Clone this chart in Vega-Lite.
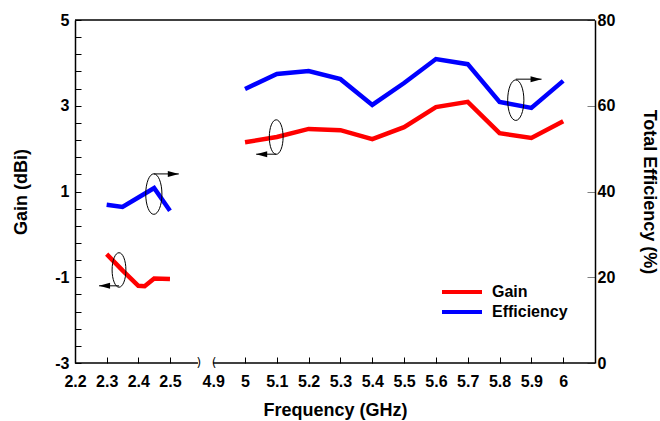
{
  "$schema": "https://vega.github.io/schema/vega-lite/v6.json",
  "width": 520,
  "height": 343,
  "autosize": {"type": "none"},
  "padding": {"left": 75, "top": 20, "right": 65, "bottom": 58},
  "background": "white",
  "config": {
    "view": {"stroke": null},
    "font": "Liberation Sans",
    "axis": {
      "labelFont": "Liberation Sans",
      "labelFontSize": 16,
      "labelFontWeight": "bold",
      "labelColor": "black",
      "labelOverlap": false,
      "labelFlush": false,
      "titleFont": "Liberation Sans",
      "titleFontSize": 18,
      "titleFontWeight": "bold",
      "titleColor": "black",
      "grid": false,
      "ticks": true,
      "domainColor": "black",
      "domainWidth": 1.5,
      "tickColor": "black",
      "tickWidth": 1
    }
  },
  "datasets": {
    "curves": [
      {"series": "Gain", "band": "low", "f": 2.3, "value": -0.46},
      {"series": "Gain", "band": "low", "f": 2.35, "value": -0.84},
      {"series": "Gain", "band": "low", "f": 2.4, "value": -1.2},
      {"series": "Gain", "band": "low", "f": 2.42, "value": -1.21},
      {"series": "Gain", "band": "low", "f": 2.45, "value": -1.03},
      {"series": "Gain", "band": "low", "f": 2.5, "value": -1.04},
      {"series": "Gain", "band": "high", "f": 5.0, "value": 2.15},
      {"series": "Gain", "band": "high", "f": 5.1, "value": 2.27},
      {"series": "Gain", "band": "high", "f": 5.2, "value": 2.46},
      {"series": "Gain", "band": "high", "f": 5.3, "value": 2.43},
      {"series": "Gain", "band": "high", "f": 5.4, "value": 2.22},
      {"series": "Gain", "band": "high", "f": 5.5, "value": 2.5},
      {"series": "Gain", "band": "high", "f": 5.6, "value": 2.97},
      {"series": "Gain", "band": "high", "f": 5.7, "value": 3.09},
      {"series": "Gain", "band": "high", "f": 5.8, "value": 2.36},
      {"series": "Gain", "band": "high", "f": 5.9, "value": 2.25},
      {"series": "Gain", "band": "high", "f": 6.0, "value": 2.64},
      {"series": "Efficiency", "band": "low", "f": 2.3, "value": 36.9},
      {"series": "Efficiency", "band": "low", "f": 2.35, "value": 36.4},
      {"series": "Efficiency", "band": "low", "f": 2.4, "value": 38.6},
      {"series": "Efficiency", "band": "low", "f": 2.45, "value": 40.8},
      {"series": "Efficiency", "band": "low", "f": 2.5, "value": 35.5},
      {"series": "Efficiency", "band": "high", "f": 5.0, "value": 63.9},
      {"series": "Efficiency", "band": "high", "f": 5.1, "value": 67.4},
      {"series": "Efficiency", "band": "high", "f": 5.2, "value": 68.1},
      {"series": "Efficiency", "band": "high", "f": 5.3, "value": 66.2},
      {"series": "Efficiency", "band": "high", "f": 5.4, "value": 60.2},
      {"series": "Efficiency", "band": "high", "f": 5.5, "value": 65.3},
      {"series": "Efficiency", "band": "high", "f": 5.6, "value": 70.9},
      {"series": "Efficiency", "band": "high", "f": 5.7, "value": 69.7},
      {"series": "Efficiency", "band": "high", "f": 5.8, "value": 60.9},
      {"series": "Efficiency", "band": "high", "f": 5.9, "value": 59.5},
      {"series": "Efficiency", "band": "high", "f": 6.0, "value": 65.8}
    ],
    "gainNotes": [
      {"f": 2.339, "value": -0.83, "f2": 2.276, "arrow": -1.2},
      {"f": 5.098, "value": 2.27, "f2": 5.035, "arrow": 1.87}
    ],
    "effNotes": [
      {"f": 2.449, "value": 39.4, "f2": 2.528, "arrow": 44.1},
      {"f": 5.851, "value": 61.3, "f2": 5.932, "arrow": 66.2}
    ],
    "breaks": [
      {"f": 4.855, "glyph": ")"},
      {"f": 4.903, "glyph": "("}
    ]
  },
  "layer": [
    {
      "layer": [
        {
          "data": {"name": "curves"},
          "transform": [{"filter": "datum.series === 'Gain'"}],
          "mark": {"type": "line", "strokeWidth": 4.5},
          "encoding": {
            "x": {
              "field": "f",
              "type": "quantitative",
              "scale": {"domain": [2.2, 2.58, 4.85, 6.1], "range": [0, 120.3, 122.3, 520], "nice": false, "zero": false},
              "axis": {
                "values": [2.2, 2.3, 2.4, 2.5, 4.9, 5, 5.1, 5.2, 5.3, 5.4, 5.5, 5.6, 5.7, 5.8, 5.9, 6],
                "labelExpr": "'' + datum.value",
                "ticks": true,
                "tickSize": -6,
                "tickOpacity": {"condition": {"test": "datum.value == 2.2 || datum.value == 4.9", "value": 0}, "value": 1},
                "domain": false,
                "labelPadding": 16,
                "labelOverlap": false,
                "labelFlush": false,
                "title": "Frequency (GHz)",
                "titlePadding": 12
              }
            },
            "y": {
              "field": "value",
              "type": "quantitative",
              "scale": {"domain": [-3, 5], "nice": false, "zero": false},
              "axis": {
                "orient": "left",
                "title": "Gain (dBi)",
                "values": [-3, -2.6, -2.2, -1.8, -1.4, -1, -0.6, -0.2, 0.2, 0.6, 1, 1.4, 1.8, 2.2, 2.6, 3, 3.4, 3.8, 4.2, 4.6, 5],
                "labelExpr": "datum.value == round(datum.value) ? '' + datum.value : ''",
                "labelOverlap": false,
                "ticks": true,
                "tickSize": -6,
                "labelPadding": 12,
                "titlePadding": 24
              }
            },
            "color": {
              "field": "series",
              "type": "nominal",
              "scale": {"domain": ["Gain", "Efficiency"], "range": ["#FF0000", "#0000FF"]},
              "legend": {
                "orient": "none",
                "legendX": 375,
                "legendY": 260,
                "title": null,
                "padding": 0,
                "symbolType": "M-2,0L2,0",
                "symbolSize": 400,
                "symbolStrokeWidth": 4,
                "labelFont": "Liberation Sans",
                "labelFontSize": 16,
                "labelFontWeight": "bold",
                "labelColor": "black",
                "labelOffset": 18,
                "rowPadding": 0
              }
            },
            "detail": {"field": "band"}
          }
        },
        {
          "data": {"values": [{}]},
          "mark": {"type": "rule", "stroke": "black", "strokeWidth": 1.5},
          "encoding": {
            "x": {"datum": 2.2, "type": "quantitative", "axis": null},
            "x2": {"datum": 6.1},
            "y": {"datum": 5, "type": "quantitative", "axis": null}
          }
        },
        {
          "data": {"values": [{}]},
          "mark": {"type": "rule", "stroke": "black", "strokeWidth": 1.5},
          "encoding": {
            "x": {"datum": 2.2, "type": "quantitative", "axis": null},
            "x2": {"datum": 4.852},
            "y": {"datum": -3, "type": "quantitative", "axis": null}
          }
        },
        {
          "data": {"values": [{}]},
          "mark": {"type": "rule", "stroke": "black", "strokeWidth": 1.5},
          "encoding": {
            "x": {"datum": 4.9, "type": "quantitative", "axis": null},
            "x2": {"datum": 6.1},
            "y": {"datum": -3, "type": "quantitative", "axis": null}
          }
        },
        {
          "data": {"name": "breaks"},
          "mark": {"type": "text", "fontSize": 12, "font": "DejaVu Sans", "baseline": "middle", "align": "center", "color": "black"},
          "encoding": {
            "x": {"field": "f", "type": "quantitative", "axis": null},
            "y": {"datum": -3, "type": "quantitative", "axis": null},
            "text": {"field": "glyph"}
          }
        },
        {
          "data": {"name": "gainNotes"},
          "mark": {"type": "point", "shape": "M0,-1A0.4,1 0 1,1 0,1A0.4,1 0 1,1 0,-1Z", "size": 1190, "filled": false, "stroke": "black", "strokeWidth": 1, "opacity": 1},
          "encoding": {
            "x": {"field": "f", "type": "quantitative", "axis": null},
            "y": {"field": "value", "type": "quantitative", "axis": null}
          }
        },
        {
          "data": {"name": "gainNotes"},
          "mark": {"type": "rule", "stroke": "black", "strokeWidth": 1},
          "encoding": {
            "x": {"field": "f", "type": "quantitative", "axis": null},
            "x2": {"field": "f2"},
            "y": {"field": "arrow", "type": "quantitative", "axis": null}
          }
        },
        {
          "data": {"name": "gainNotes"},
          "mark": {"type": "point", "shape": "M0,0L2.2,-0.6L2.2,0.6Z", "size": 100, "filled": true, "color": "black", "opacity": 1},
          "encoding": {
            "x": {"field": "f2", "type": "quantitative", "axis": null},
            "y": {"field": "arrow", "type": "quantitative", "axis": null}
          }
        }
      ],
      "resolve": {"axis": {"x": "independent", "y": "independent"}}
    },
    {
      "layer": [
        {
          "data": {"name": "curves"},
          "transform": [{"filter": "datum.series === 'Efficiency'"}],
          "mark": {"type": "line", "strokeWidth": 4.5},
          "encoding": {
            "x": {"field": "f", "type": "quantitative", "axis": null},
            "y": {
              "field": "value",
              "type": "quantitative",
              "scale": {"domain": [0, 80], "nice": false, "zero": false},
              "axis": {
                "orient": "right",
                "title": "Total Efficiency (%)",
                "values": [0, 20, 40, 60, 80],
                "labelExpr": "'' + datum.value",
                "labelOverlap": false,
                "ticks": true,
                "tickSize": -8,
                "tickColor": "#808080",
                "labelPadding": 10,
                "titlePadding": 25
              }
            },
            "color": {"field": "series", "type": "nominal"},
            "detail": {"field": "band"}
          }
        },
        {
          "data": {"name": "effNotes"},
          "mark": {"type": "point", "shape": "M0,-1A0.4,1 0 1,1 0,1A0.4,1 0 1,1 0,-1Z", "size": 1640, "filled": false, "stroke": "black", "strokeWidth": 1, "opacity": 1},
          "encoding": {
            "x": {"field": "f", "type": "quantitative", "axis": null},
            "y": {"field": "value", "type": "quantitative", "axis": null}
          }
        },
        {
          "data": {"name": "effNotes"},
          "mark": {"type": "rule", "stroke": "black", "strokeWidth": 1},
          "encoding": {
            "x": {"field": "f", "type": "quantitative", "axis": null},
            "x2": {"field": "f2"},
            "y": {"field": "arrow", "type": "quantitative", "axis": null}
          }
        },
        {
          "data": {"name": "effNotes"},
          "mark": {"type": "point", "shape": "M0,0L-2.2,-0.6L-2.2,0.6Z", "size": 100, "filled": true, "color": "black", "opacity": 1},
          "encoding": {
            "x": {"field": "f2", "type": "quantitative", "axis": null},
            "y": {"field": "arrow", "type": "quantitative", "axis": null}
          }
        }
      ],
      "resolve": {"axis": {"x": "independent", "y": "independent"}}
    }
  ],
  "resolve": {"scale": {"y": "independent"}, "axis": {"x": "independent", "y": "independent"}}
}
